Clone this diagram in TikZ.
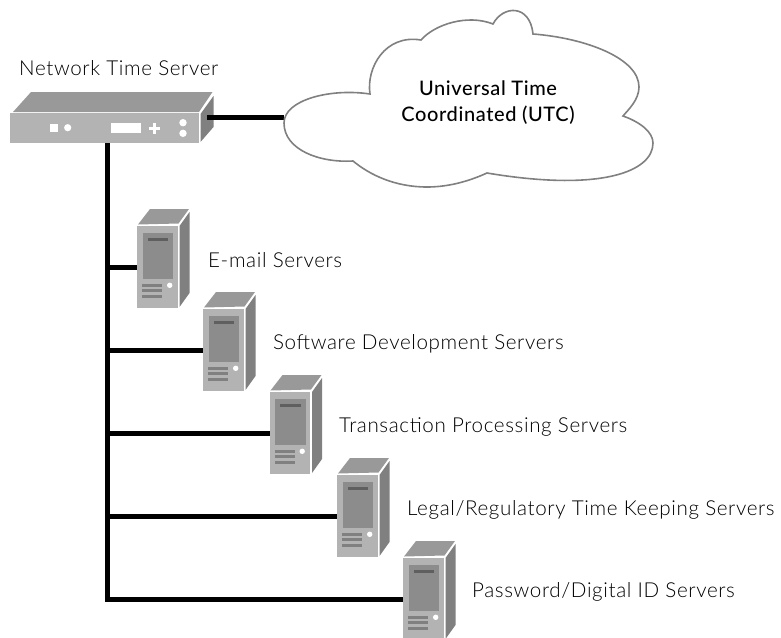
\documentclass[tikz,border=0pt]{standalone}
\usepackage{fontspec}
\setmainfont{Lato Light}[BoldFont=Lato Medium,LetterSpace=3]
\definecolor{fronts}{HTML}{B3B3B3}
\definecolor{tops}{HTML}{999999}
\definecolor{sides}{HTML}{808080}
\definecolor{panel}{HTML}{8C8C8C}
\definecolor{slot}{HTML}{4D4D4D}
\definecolor{cloudline}{HTML}{808080}
\tikzset{
  wire/.style={line width=5pt,black},
  lbl/.style={anchor=west,inner sep=0pt,font=\fontsize{20.6}{22}\selectfont,text=black},
  frontbox/.style={fill=fronts,draw=none,inner sep=0pt,minimum width=#1},
  lit/.style={fill=white,draw=none}
}
\newcommand{\towerunit}[3]{%
  \begin{scope}[shift={(#2,#3)}]
    \fill[tops] (1,-1.5) -- (13,-17) -- (52,-17) -- (41.5,-2.5) -- cycle;
    \fill[sides] (42.5,0) -- (52.5,-14) -- (52.5,67) -- (42.5,81) -- cycle;
    \node[frontbox=40.5pt,minimum height=82pt,anchor=north west] (#1) at (0,0) {};
    \fill[panel] (5.7,6.7) rectangle (36,53);
    \fill[slot!90] (10.7,11.7) rectangle (31,15);
    \fill[lit] (32.7,59.3) circle (2.7);
    \fill[sides] (5,57.7) rectangle (25,61);
    \fill[sides] (5,63.3) rectangle (25,66.3);
    \fill[sides] (5,69) rectangle (25,72);
  \end{scope}}
\begin{document}
\begin{tikzpicture}[x=1pt,y=-1pt]
\useasboundingbox (0,0) rectangle (781,637);
% network time server
\node[lbl] (ntslabel) at (19,68.5) {Network Time Server};
\fill[tops] (13,112) -- (31,92) -- (212.5,92) -- (199,112) -- cycle;
\fill[sides] (200.5,114) -- (213.5,96) -- (213.5,127) -- (200.5,142) -- cycle;
\node[frontbox=189pt,minimum height=30pt,anchor=north west] (nts) at (10,113) {};
\coordinate (ntsport) at (207,117.5);
\fill[lit] (50,124) rectangle (57.5,132);
\fill[lit] (67.7,127.7) circle (3.6);
\fill[lit] (111,123) rectangle (141,132.5);
\fill[lit] (148.5,126.6) rectangle (160,130);
\fill[lit] (152.5,122.7) rectangle (155.9,134);
\fill[lit] (183,122.7) circle (3.7);
\fill[lit] (183,133.3) circle (3.7);
% cloud
\coordinate (cloudport) at (284,117.5);
\draw[wire] (ntsport) -- (cloudport);
\draw[cloudline,fill=white,line width=1.6pt,line join=miter]
  (370,94) .. controls (366,68) and (385,34) .. (421,40)
  .. controls (435,24) and (468,14) .. (493,24)
  .. controls (503,5) and (530,4) .. (533,34)
  .. controls (585,38) and (639,58) .. (639,87)
  .. controls (639,100) and (628,110) .. (623,116)
  .. controls (640,122) and (653,132) .. (653,143)
  .. controls (653,172) and (600,192) .. (487,173)
  .. controls (465,183) and (445,187) .. (427,187)
  .. controls (395,187) and (370,175) .. (353,161)
  .. controls (320,163) and (284,150) .. (284,123)
  .. controls (284,100) and (330,88) .. (370,94) -- cycle;
\node[lbl,anchor=center,align=center,font=\fontsize{20}{26}\selectfont\bfseries,text=black] (utc) at (488,103) {Universal Time\\Coordinated (UTC)};
% servers
\towerunit{mail}{137}{226}
\towerunit{dev}{203}{309}
\towerunit{trans}{269.5}{392}
\towerunit{legal}{337}{475}
\towerunit{pass}{403}{558}
\coordinate (trunk) at (107.5,143);
\draw[wire,line join=miter] (trunk) -- (trunk |- pass.west) -- (pass.west);
\draw[wire] (trunk |- mail.west) -- (mail.west);
\draw[wire] (trunk |- dev.west) -- (dev.west);
\draw[wire] (trunk |- trans.west) -- (trans.west);
\draw[wire] (trunk |- legal.west) -- (legal.west);
\node[lbl] (maillabel) at (208,260.5) {E-mail Servers};
\node[lbl] (devlabel) at (273,343.5) {Software Development Servers};
\node[lbl] (translabel) at (339,426.5) {Transaction Processing Servers};
\node[lbl] (legallabel) at (407,509.5) {Legal/Regulatory Time Keeping Servers};
\node[lbl] (passlabel) at (472,591.5) {Password/Digital ID Servers};
\end{tikzpicture}
\end{document}
